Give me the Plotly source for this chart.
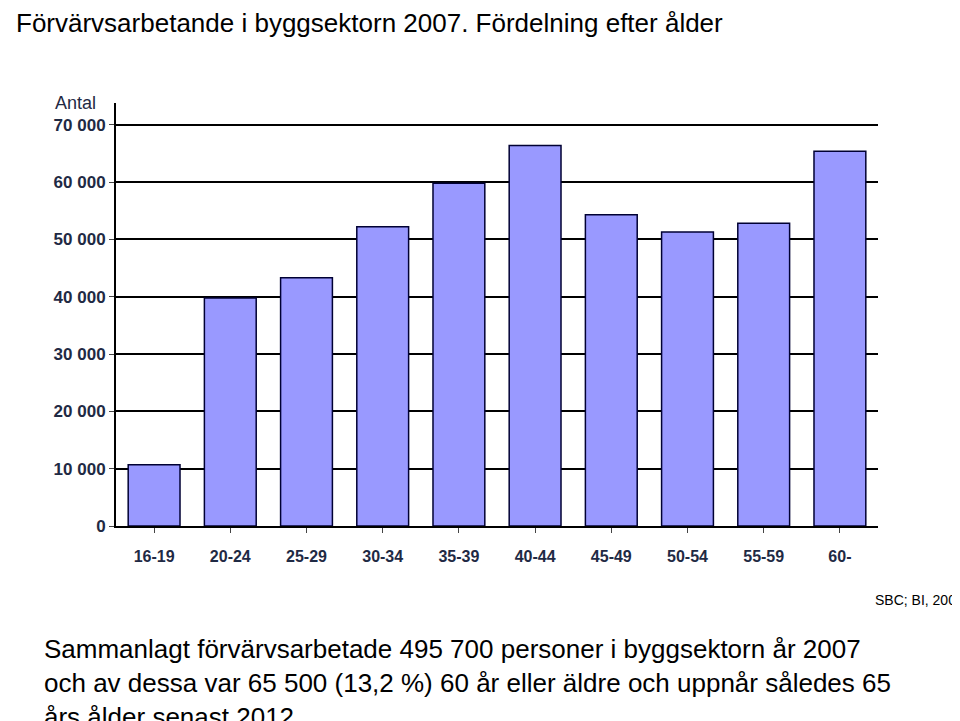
import plotly.graph_objects as go

categories = ["16-19","20-24","25-29","30-34","35-39","40-44","45-49","50-54","55-59","60-"]
values = [10700, 39800, 43300, 52200, 59800, 66400, 54300, 51300, 52800, 65400]
ytick_vals = [0,10000,20000,30000,40000,50000,60000,70000]
ytick_text = ["<b>0</b>","<b>10 000</b>","<b>20 000</b>","<b>30 000</b>","<b>40 000</b>","<b>50 000</b>","<b>60 000</b>","<b>70 000</b>"]

fig = go.Figure(go.Bar(x=categories, y=values, marker=dict(color="#9999FF", line=dict(color="#000033", width=1.5)), width=0.68))
fig.update_layout(
    width=960, height=721, plot_bgcolor="white", paper_bgcolor="white",
    margin=dict(l=108, r=90, t=95, b=203), showlegend=False,
    font=dict(family="Liberation Sans, Arial", color="#000"),
    xaxis=dict(showline=True, linecolor="black", linewidth=2, ticks="outside", ticklen=5, automargin=False,
               tickvals=categories, ticktext=["<b>%s</b>" % c for c in categories],
               tickfont=dict(size=16, color="#1f2a44"), showgrid=False, ticklabelstandoff=10),
    yaxis=dict(range=[0, 73800], tickvals=ytick_vals, ticktext=ytick_text, showline=True, automargin=False,
               linecolor="black", linewidth=2, gridcolor="black", gridwidth=1.5,
               ticks="outside", ticklen=5, tickfont=dict(size=17, color="#1f2a44"), zeroline=False),
    annotations=[
        dict(text="Förvärvsarbetande i byggsektorn 2007. Fördelning efter ålder", x=0, y=1, xref="paper", yref="paper",
             xanchor="left", yanchor="top", showarrow=False, font=dict(size=26), xshift=-102, yshift=97),
        dict(text="Antal", x=0, y=1, xref="paper", yref="paper", xanchor="right", yanchor="bottom",
             showarrow=False, font=dict(size=18, color="#1f2a44"), xshift=-18, yshift=-12),
        dict(text="SBC; BI, 2008", x=1, y=0, xref="paper", yref="paper", xanchor="right", yanchor="top",
             showarrow=False, font=dict(size=14), xshift=88, yshift=-64),
        dict(text="Sammanlagt förvärvsarbetade 495 700 personer i byggsektorn år 2007<br>och av dessa var 65 500 (13,2 %) 60 år eller äldre och uppnår således 65<br>års ålder senast 2012.",
             x=0, y=0, xref="paper", yref="paper", xanchor="left", yanchor="top", align="left",
             showarrow=False, font=dict(size=26), xshift=-74, yshift=-106),
    ],
)
fig.write_html("out.html")
